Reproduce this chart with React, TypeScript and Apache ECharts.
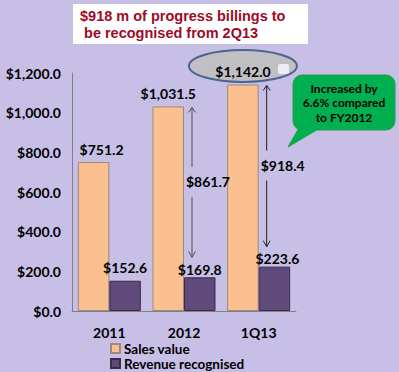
import React, { useEffect, useRef } from "react";
import * as echarts from "echarts";

const categories = ["2011", "2012", "1Q13"];
const salesValue = [751.2, 1031.5, 1142.0];
const revenueRecognised = [152.6, 169.8, 223.6];
const titleLines = ["$918 m of progress billings to", " be recognised from 2Q13"];
const calloutLines = ["Increased by", "6.6% compared", "to FY2012"];
const arrowIdx = [1, 2];

const FONT = "Lato, 'Open Sans', sans-serif";
const fmt = (v: number) =>
  "$" + v.toLocaleString("en-US", { minimumFractionDigits: 1, maximumFractionDigits: 1 });

export default function App() {
  const ref = useRef<HTMLDivElement>(null);
  useEffect(() => {
    if (!ref.current) return;
    const chart = echarts.init(ref.current, null, { renderer: "svg" });
    const BW = 31.5;
    chart.setOption({
      animation: false,
      backgroundColor: "#c8bfe6",
      grid: { left: 72, right: 103, top: 73, bottom: 61 },
      legend: {
        orient: "vertical",
        left: 110,
        top: 341.5,
        height: 31,
        padding: 0,
        itemGap: 1,
        itemWidth: 9,
        itemHeight: 9,
        icon: "rect",
        textStyle: {
          fontFamily: FONT,
          fontWeight: "bold",
          fontSize: 13.5,
          lineHeight: 13,
          color: "#000",
          padding: [0, 0, 0, -1],
        },
        data: ["Sales value", "Revenue recognised"],
      },
      xAxis: {
        type: "category",
        data: categories,
        axisLine: { lineStyle: { color: "#808080", width: 1 } },
        axisTick: { show: false },
        axisLabel: { fontFamily: FONT, fontWeight: "bold", fontSize: 14, color: "#000", margin: 14 },
      },
      yAxis: {
        type: "value",
        min: 0,
        max: 1200,
        interval: 200,
        axisLine: { show: true, lineStyle: { color: "#808080", width: 1 } },
        axisTick: { show: false },
        splitLine: { show: false },
        axisLabel: {
          fontFamily: FONT,
          fontWeight: "bold",
          fontSize: 14,
          color: "#000",
          margin: 11,
          formatter: (v: number) => fmt(v),
        },
      },
      series: [
        {
          name: "Sales value",
          type: "bar",
          barWidth: BW,
          barGap: "0%",
          itemStyle: { color: "#fac090", borderColor: "#9c8a7c", borderWidth: 1 },
          label: {
            show: true,
            position: "top",
            distance: 6,
            fontFamily: FONT,
            fontWeight: "bold",
            fontSize: 14,
            color: "#000",
            formatter: (p: any) => fmt(p.value),
          },
          data: salesValue.map((v, i) =>
            i === 0 ? { value: v, label: { offset: [8, 0] } } : { value: v }
          ),
          z: 3,
        },
        {
          name: "Revenue recognised",
          type: "bar",
          barWidth: BW,
          barGap: "0%",
          itemStyle: { color: "#604a7b", borderColor: "#3a2c4c", borderWidth: 1 },
          label: {
            show: true,
            position: "top",
            distance: 6,
            fontFamily: FONT,
            fontWeight: "bold",
            fontSize: 14,
            color: "#000",
            formatter: (p: any) => fmt(p.value),
          },
          data: revenueRecognised.map((v, i) =>
            i === 0 ? { value: v } : { value: v, label: { distance: 1, offset: [i === 2 ? 3 : 0, 0] } }
          ),
          z: 3,
        },
      ],
    });

    const elements: any[] = [];
    // title box
    elements.push({
      type: "rect",
      shape: { x: 73, y: 4, width: 235, height: 40 },
      style: { fill: "#ffffff" },
      z: 10,
    });
    titleLines.forEach((t, i) => {
      elements.push({
        type: "text",
        x: 80,
        y: 15.5 + i * 17.5,
        style: {
          text: t,
          fill: "#9e0a26",
          font: "bold 14.5px 'Liberation Sans', Arial, sans-serif",
          textVerticalAlign: "middle",
        },
        z: 11,
      });
    });

    // arrows between sales and revenue
    arrowIdx.forEach((i) => {
      const c = chart.convertToPixel({ gridIndex: 0 }, [i, salesValue[i]]) as number[];
      const r = chart.convertToPixel({ gridIndex: 0 }, [i, revenueRecognised[i]]) as number[];
      const x = c[0] + 8;
      const yTop = c[1];
      const yBot = r[1] - 20;
      const mid = (yTop + yBot) / 2;
      const col = i === 1 ? "#505050" : "#202020";
      const ls = { stroke: col, lineWidth: 1 };
      elements.push({ type: "line", shape: { x1: x, y1: yTop + 1, x2: x, y2: mid - 15 }, style: ls, z: 5 });
      elements.push({ type: "line", shape: { x1: x, y1: mid + 15, x2: x, y2: yBot }, style: ls, z: 5 });
      elements.push({
        type: "polyline",
        shape: { points: [[x - 3.5, yTop + 6], [x, yTop + 1], [x + 3.5, yTop + 6]] },
        style: { ...ls, fill: null },
        z: 5,
      });
      elements.push({
        type: "polyline",
        shape: { points: [[x - 3.5, yBot - 6], [x, yBot], [x + 3.5, yBot - 6]] },
        style: { ...ls, fill: null },
        z: 5,
      });
      elements.push({
        type: "text",
        x: x - 6,
        y: mid,
        style: {
          text: fmt(+(salesValue[i] - revenueRecognised[i]).toFixed(1)),
          fill: "#000",
          font: `bold 14px ${FONT}`,
          textVerticalAlign: "middle",
        },
        z: 6,
      });
    });

    // ellipse around the latest sales value
    const e = chart.convertToPixel({ gridIndex: 0 }, [2, salesValue[2]]) as number[];
    elements.push({
      type: "ellipse",
      shape: { cx: e[0] - BW / 2, cy: e[1] - 18.5, rx: 54, ry: 16 },
      style: { fill: "#c0c0c4", stroke: "#4a6590", lineWidth: 2 },
      z: 1,
    });
    elements.push({
      type: "rect",
      shape: { x: 278, y: 64, width: 11, height: 10, r: 2 },
      style: { fill: "#eeeef8" },
      z: 2,
    });

    // green callout
    elements.push({
      type: "polygon",
      shape: { points: [[300, 126], [288, 147], [320, 128]] },
      style: { fill: "#00b050", stroke: "#2a9a4a", lineWidth: 1 },
      z: 7,
    });
    elements.push({
      type: "rect",
      shape: { x: 293, y: 75, width: 102, height: 55, r: 9 },
      style: { fill: "#00b050", stroke: "#2a9a4a", lineWidth: 1 },
      z: 7,
    });
    elements.push({
      type: "polygon",
      shape: { points: [[301, 128.5], [289, 146], [319, 128.5]] },
      style: { fill: "#00b050" },
      z: 8,
    });
    calloutLines.forEach((t, i) => {
      elements.push({
        type: "text",
        x: 344,
        y: 88 + i * 14.5,
        style: {
          text: t,
          fill: "#000",
          font: `bold 12px ${FONT}`,
          textAlign: "center",
          textVerticalAlign: "middle",
        },
        z: 9,
      });
    });

    chart.setOption({ graphic: { elements } });
    return () => chart.dispose();
  }, []);
  return <div ref={ref} style={{ width: 399, height: 372, position: "absolute", left: 0, top: 0 }} />;
}
